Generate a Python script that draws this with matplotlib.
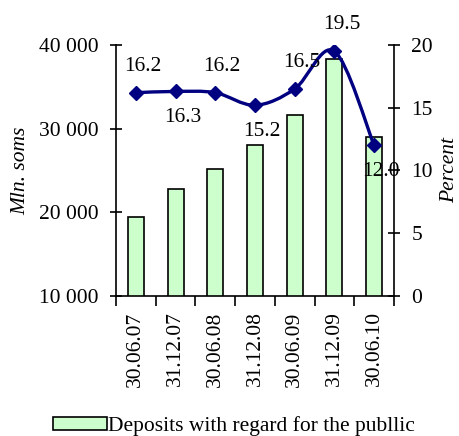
import matplotlib
matplotlib.use("Agg")
import matplotlib.pyplot as plt
from matplotlib.path import Path
from matplotlib.patches import PathPatch
import numpy as np

plt.rcParams['font.family'] = ['Liberation Serif', 'DejaVu Serif']
plt.rcParams['font.size'] = 15.5

# data
dates = ["30.06.07", "31.12.07", "30.06.08", "31.12.08", "30.06.09", "31.12.09", "30.06.10"]
deposits = [19500, 22800, 25200, 28000, 31600, 38300, 29000]
percent = [16.2, 16.3, 16.2, 15.2, 16.5, 19.5, 12.0]
label_side = [1, -1, 1, -1, 1, 1, -1]  # label above (1) or below (-1) the point

navy = "#000080"
green = "#CCFFCC"

fig = plt.figure(figsize=(4.59, 4.36), dpi=100)
ax = fig.add_axes([0.2527, 0.3211, 0.6057, 0.5757])
x = np.arange(len(dates))

ax.bar(x, deposits, width=0.4, bottom=0, color=green, edgecolor="black",
       linewidth=1.2, zorder=2)
ax.set_ylim(10000, 40000)
ax.set_xlim(-0.5, len(dates) - 0.5)
ax.set_yticks([10000, 20000, 30000, 40000])
ax.set_yticklabels(["10 000", "20 000", "30 000", "40 000"])
ax.set_ylabel("Mln. soms", style="italic", labelpad=6)
ax.set_xticks(x)
ax.set_xticklabels(dates, rotation=90)
ax.set_xticks(np.arange(-0.5, len(dates)), minor=True)
ax.tick_params(axis="x", which="major", length=0, pad=11)
ax.tick_params(axis="x", which="minor", length=7, width=1.2, direction="out")
ax.tick_params(axis="y", length=9, width=1.2, direction="inout", pad=8)
ax.spines["top"].set_visible(False)
ax.spines["right"].set_visible(False)
for s in ["left", "bottom"]:
    ax.spines[s].set_linewidth(1.2)

ax2 = ax.twinx()
ax2.set_ylim(0, 20)
ax2.set_yticks([0, 5, 10, 15, 20])
ax2.tick_params(axis="y", length=9, width=1.2, direction="inout", pad=8)
ax2.set_ylabel("Percent", style="italic", labelpad=5)
ax2.spines["top"].set_visible(False)
ax2.spines["left"].set_visible(False)
ax2.spines["bottom"].set_visible(False)
ax2.spines["right"].set_linewidth(1.2)

# smoothed line (Catmull-Rom as bezier segments, like Excel's smooth line)
px = np.array(x, dtype=float)
py = np.array(percent, dtype=float)
verts = [(px[0], py[0])]
codes = [Path.MOVETO]
n = len(px)
for i in range(n - 1):
    p0 = (px[max(i - 1, 0)], py[max(i - 1, 0)])
    p1 = (px[i], py[i])
    p2 = (px[i + 1], py[i + 1])
    p3 = (px[min(i + 2, n - 1)], py[min(i + 2, n - 1)])
    c1 = (p1[0] + (p2[0] - p0[0]) / 6, p1[1] + (p2[1] - p0[1]) / 6)
    c2 = (p2[0] - (p3[0] - p1[0]) / 6, p2[1] - (p3[1] - p1[1]) / 6)
    verts += [c1, c2, p2]
    codes += [Path.CURVE4] * 3
ax2.add_patch(PathPatch(Path(verts, codes), facecolor="none", edgecolor=navy,
                        linewidth=2.4, zorder=3))
ax2.plot(x, percent, linestyle="none", marker="D", markersize=7, color=navy, zorder=4)

for xi, yi, side in zip(x, percent, label_side):
    ax2.annotate(f"{yi:.1f}", (xi, yi), xytext=(5, 19 * side), textcoords="offset points",
                 ha="center", va="center")

fig.legend(handles=[ax.patches[0]], labels=["Deposits with regard for the publlic"],
           loc="lower center", bbox_to_anchor=(0.51, -0.045), frameon=False,
           handlelength=2.5, handleheight=0.55, handletextpad=0.08)

fig.savefig("out.png", dpi=100)
